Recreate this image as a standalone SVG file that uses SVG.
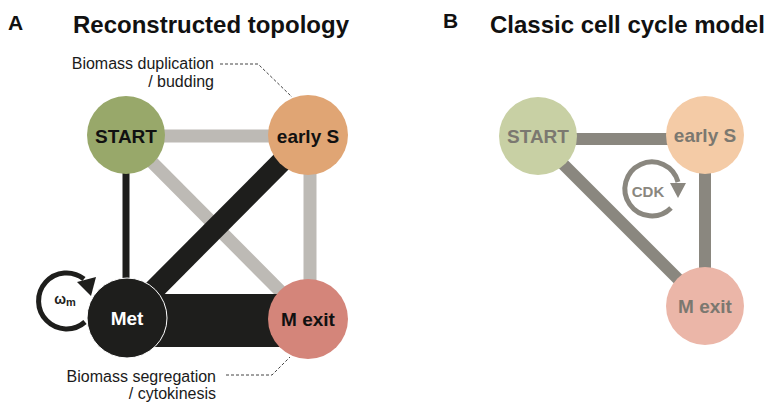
<svg xmlns="http://www.w3.org/2000/svg" width="767" height="404" viewBox="0 0 767 404">
<defs>
<style>
text{font-family:"Liberation Sans",Arial,sans-serif}
.title{font-size:24px;font-weight:bold;fill:#111}
.letter{font-size:21px;font-weight:bold;fill:#111}
.lab{font-size:16px;fill:#1a1a1a}
.node{font-size:19px;font-weight:bold;text-anchor:middle}
.dash{fill:none;stroke:#444;stroke-width:1;stroke-dasharray:3,2}
.ga{stroke:#bdbab5;stroke-width:13}
.ba{stroke:#1e1e1c}
.gb{stroke:#8a877f;stroke-width:12}
</style>
</defs>
<rect width="767" height="404" fill="#fff"/>
<text class="letter" x="8" y="30">A</text>
<text class="title" x="73" y="33">Reconstructed topology</text>
<text class="letter" x="443" y="28">B</text>
<text class="title" x="490" y="33">Classic cell cycle model</text>

<g id="labels">
<text class="lab" x="214" y="69" text-anchor="end">Biomass duplication</text>
<text class="lab" x="214" y="87" text-anchor="end">/ budding</text>
<text class="lab" x="216" y="382" text-anchor="end">Biomass segregation</text>
<text class="lab" x="216" y="399" text-anchor="end">/ cytokinesis</text>
<path class="dash" d="M220,64 H258 L292,97"/>
<path class="dash" d="M226,375 H272 L290,357"/>
</g>

<g id="connectors-A">
<line class="ga" x1="126" y1="136" x2="307" y2="136"/>
<line class="ga" x1="126" y1="136" x2="308" y2="319"/>
<line class="ga" x1="310" y1="136" x2="310" y2="319"/>
<line class="ba" stroke-width="7" x1="126" y1="136" x2="126" y2="317"/>
<line class="ba" stroke-width="21" x1="307" y1="136" x2="127" y2="317"/>
<rect x="127" y="294" width="181" height="53" fill="#1e1e1c"/>
<path d="M85,322 A28,28 0 1 1 84,279" fill="none" stroke="#1e1e1c" stroke-width="5"/>
<path d="M77,282 L96,277 L91,296 Z" fill="#1e1e1c"/>
</g>

<g id="START-A"><circle cx="126" cy="135" r="39" fill="#98a86a"/><text class="node" x="126" y="143" fill="#111">START</text></g>
<g id="earlyS-A"><circle cx="308" cy="135" r="40" fill="#e0a574"/><text class="node" x="308" y="143" fill="#111">early S</text></g>
<g id="Met-A"><circle cx="127" cy="318" r="40" fill="#1e1e1c" stroke="#fff" stroke-width="1"/><text class="node" x="127" y="325" fill="#fff">Met</text></g>
<g id="Mexit-A"><circle cx="308" cy="319" r="40" fill="#d4857a"/><text class="node" x="308" y="326" fill="#111">M exit</text></g>
<text x="65" y="304" font-size="14" font-weight="bold" fill="#1e1e1c" text-anchor="middle">ω<tspan font-size="11" dy="2">m</tspan></text>

<g id="connectors-B">
<line class="gb" x1="538" y1="139" x2="705" y2="139"/>
<line class="gb" x1="538" y1="139" x2="705" y2="306"/>
<line class="gb" x1="705" y1="139" x2="705" y2="306"/>
<path d="M671,208 A27,27 0 1 1 678,182" fill="none" stroke="#8a877f" stroke-width="5"/>
<path d="M670,183 L686,183 L678,198 Z" fill="#8a877f"/>
<text x="648" y="197" font-size="15" font-weight="bold" fill="#8a877f" text-anchor="middle">CDK</text>
</g>

<g id="START-B"><circle cx="538" cy="136" r="39" fill="#c8d0a4"/><text class="node" x="538" y="143" fill="#7b7870">START</text></g>
<g id="earlyS-B"><circle cx="705" cy="135" r="39" fill="#f4cba6"/><text class="node" x="705" y="142" fill="#7b7870">early S</text></g>
<g id="Mexit-B"><circle cx="705" cy="306" r="39" fill="#ebb6a8"/><text class="node" x="705" y="313" fill="#7b7870">M exit</text></g>
</svg>
